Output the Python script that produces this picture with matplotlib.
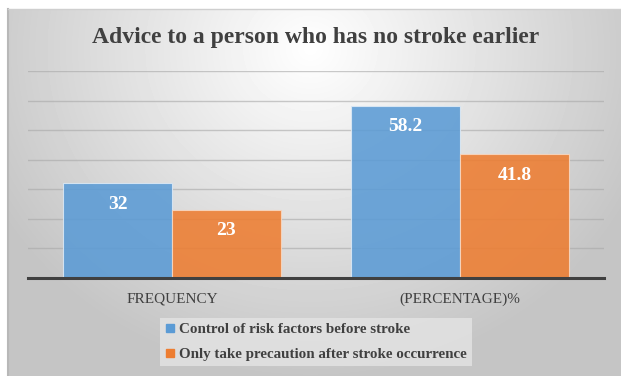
import numpy as np
import matplotlib

matplotlib.use("Agg")
import matplotlib.pyplot as plt
from matplotlib.lines import Line2D

categories = ["FREQUENCY", "(PERCENTAGE)%"]
series_names = [
    "Control of risk factors before stroke",
    "Only take precaution after stroke occurrence",
]
control_values = [32, 58.2]
precaution_values = [23, 41.8]
y_ticks = [0, 10, 20, 30, 40, 50, 60, 70]

BLUE = "#5b9bd5"
ORANGE = "#ed7d31"
TEXT = "#404040"
W, H = 621, 376

plt.rcParams["font.family"] = ["Liberation Serif", "DejaVu Serif"]

fig = plt.figure(figsize=(W / 100, H / 100), dpi=100)
fig.patch.set_facecolor("white")

# radial gradient behind the chart area
bg = fig.add_axes([8 / W, 0, (W - 8) / W, (H - 9) / H], zorder=-10)
yy, xx = np.mgrid[0:H - 9, 0:W - 8]
r = np.sqrt(((xx - 302) / 360.0) ** 2 + ((yy - 40) / 330.0) ** 2)
shade = 1.0 - 0.23 * np.clip(r, 0, 1)
bg.imshow(shade, cmap="gray", vmin=0, vmax=1, aspect="auto",
          extent=[0, 1, 0, 1], origin="upper", interpolation="bilinear")
bg.set_xlim(0, 1)
bg.set_ylim(0, 1)
bg.axis("off")
bg.plot([0, 0], [0, 1], color="#b8b8b8", lw=1.5, transform=bg.transAxes, clip_on=False)
bg.plot([0, 1], [1, 1], color="#cfcfcf", lw=1.0, transform=bg.transAxes, clip_on=False)

ax = fig.add_axes([28 / W, (H - 278) / H, 576 / W, (278 - 71) / H])
ax.patch.set_alpha(0)
x = np.arange(len(categories))
width = 0.378

ax.set_ylim(0, 70)
ax.set_xlim(-0.5, len(categories) - 0.5)
ax.set_yticks(y_ticks)
ax.yaxis.grid(True, color="#a8a8a8", lw=1.0, alpha=0.6)
ax.set_axisbelow(False)
for s in ["top", "right", "left"]:
    ax.spines[s].set_visible(False)
ax.spines["bottom"].set_color(TEXT)
ax.spines["bottom"].set_linewidth(2.2)
ax.spines["bottom"].set_zorder(5)
ax.tick_params(left=False, bottom=False, labelleft=False)

b1 = ax.bar(x - width / 2, control_values, width, color=BLUE, alpha=0.88,
            edgecolor="#dce9f5", linewidth=0.8, zorder=3)
b2 = ax.bar(x + width / 2, precaution_values, width, color=ORANGE, alpha=0.88,
            edgecolor="#f8d7c0", linewidth=0.8, zorder=3)

for bars, vals in ((b1, control_values), (b2, precaution_values)):
    for rect, v in zip(bars, vals):
        ax.annotate(f"{v:g}", (rect.get_x() + rect.get_width() / 2, v),
                    xytext=(0, -21), textcoords="offset pixels",
                    ha="center", va="center", color="white",
                    fontsize=14, fontweight="bold", zorder=6)

ax.set_xticks(x)
ax.set_xticklabels(categories, fontsize=11, color=TEXT)
ax.tick_params(axis="x", pad=7)

fig.text(316 / W, 1 - 38 / H, "Advice to a person who has no stroke earlier",
         ha="center", va="center", fontsize=17, fontweight="bold", color=TEXT)

handles = [
    Line2D([], [], ls="none", marker="s", markersize=6, color=BLUE),
    Line2D([], [], ls="none", marker="s", markersize=6, color=ORANGE),
]
leg = fig.legend(handles, series_names, loc="center",
                 bbox_to_anchor=(316 / W, 1 - 342 / H), frameon=True,
                 prop={"weight": "bold", "size": 10.8}, labelcolor=TEXT,
                 handlelength=0.6, handletextpad=0.3, borderpad=0.35,
                 labelspacing=0.75, fancybox=False)
leg.get_frame().set_facecolor("#e4e4e4")
leg.get_frame().set_edgecolor("none")
leg.get_frame().set_alpha(0.8)

fig.savefig("out.png", dpi=100)
